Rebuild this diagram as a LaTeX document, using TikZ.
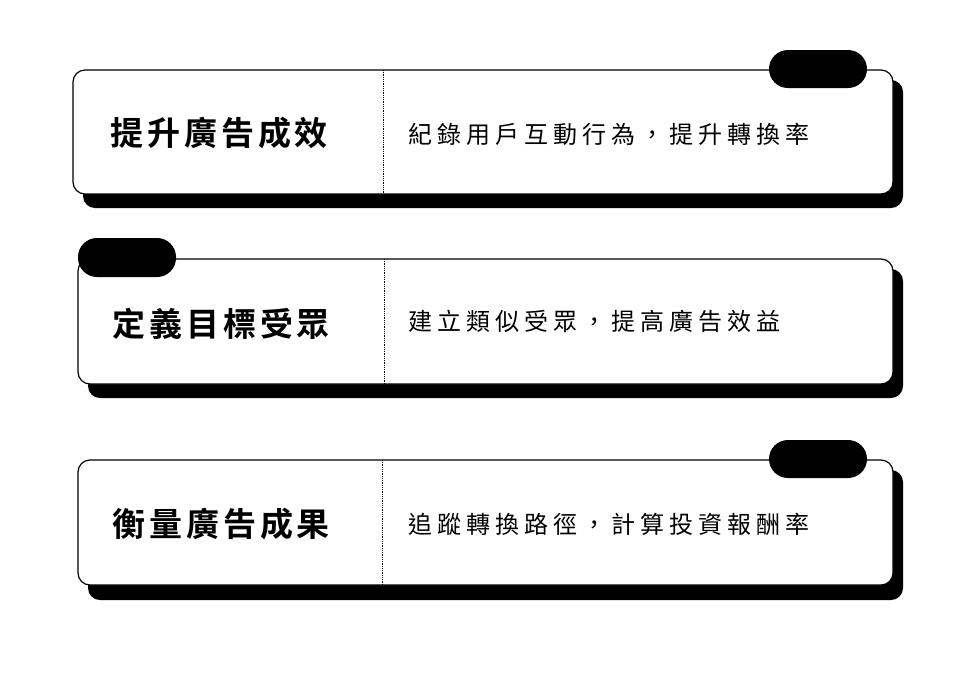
\documentclass[tikz,border=0pt]{standalone}
\usepackage{fontspec}
\newfontfamily\cjk[LetterSpace=21]{Noto Sans CJK TC}
\newfontfamily\cjkb[LetterSpace=12]{Noto Sans CJK TC Bold}
\begin{document}
\begin{tikzpicture}[x=1pt,y=-1pt,
  card/.style={draw=black,line width=1.2pt,fill=white,rounded corners=12pt},
  shadowbox/.style={fill=black,rounded corners=12pt},
  pill/.style={fill=black,rounded corners=19pt},
  divider/.style={densely dotted,line width=0.8pt},
  title/.style={font=\cjkb\fontsize{33}{38}\selectfont,anchor=west,inner sep=0pt},
  desc/.style={font=\cjk\fontsize{24}{28}\selectfont,anchor=west,inner sep=0pt}]
\useasboundingbox (0,0) rectangle (959,673);
% card 1
\fill[shadowbox] (83,80) rectangle (903,208);
\draw[card] (73,70) rectangle (893,194);
\fill[pill] (769,50) rectangle (867,88);
\draw[divider] (383,70) -- (383,194);
\node[title] (t1) at (110,133) {提升廣告成效};
\node[desc] (d1) at (408,134) {紀錄用戶互動行為，提升轉換率};
% card 2
\fill[shadowbox] (88,269) rectangle (903,398);
\draw[card] (78,259) rectangle (893,384);
\fill[pill] (78,238) rectangle (176,277);
\draw[divider] (384,259) -- (384,384);
\node[title] (t2) at (112,324) {定義目標受眾};
\node[desc] (d2) at (408,321) {建立類似受眾，提高廣告效益};
% card 3
\fill[shadowbox] (88,470) rectangle (903,600);
\draw[card] (78,460) rectangle (893,585);
\fill[pill] (769,440) rectangle (867,478);
\draw[divider] (382,460) -- (382,585);
\node[title] (t3) at (112,524) {衡量廣告成果};
\node[desc] (d3) at (408,524) {追蹤轉換路徑，計算投資報酬率};
\end{tikzpicture}
\end{document}
